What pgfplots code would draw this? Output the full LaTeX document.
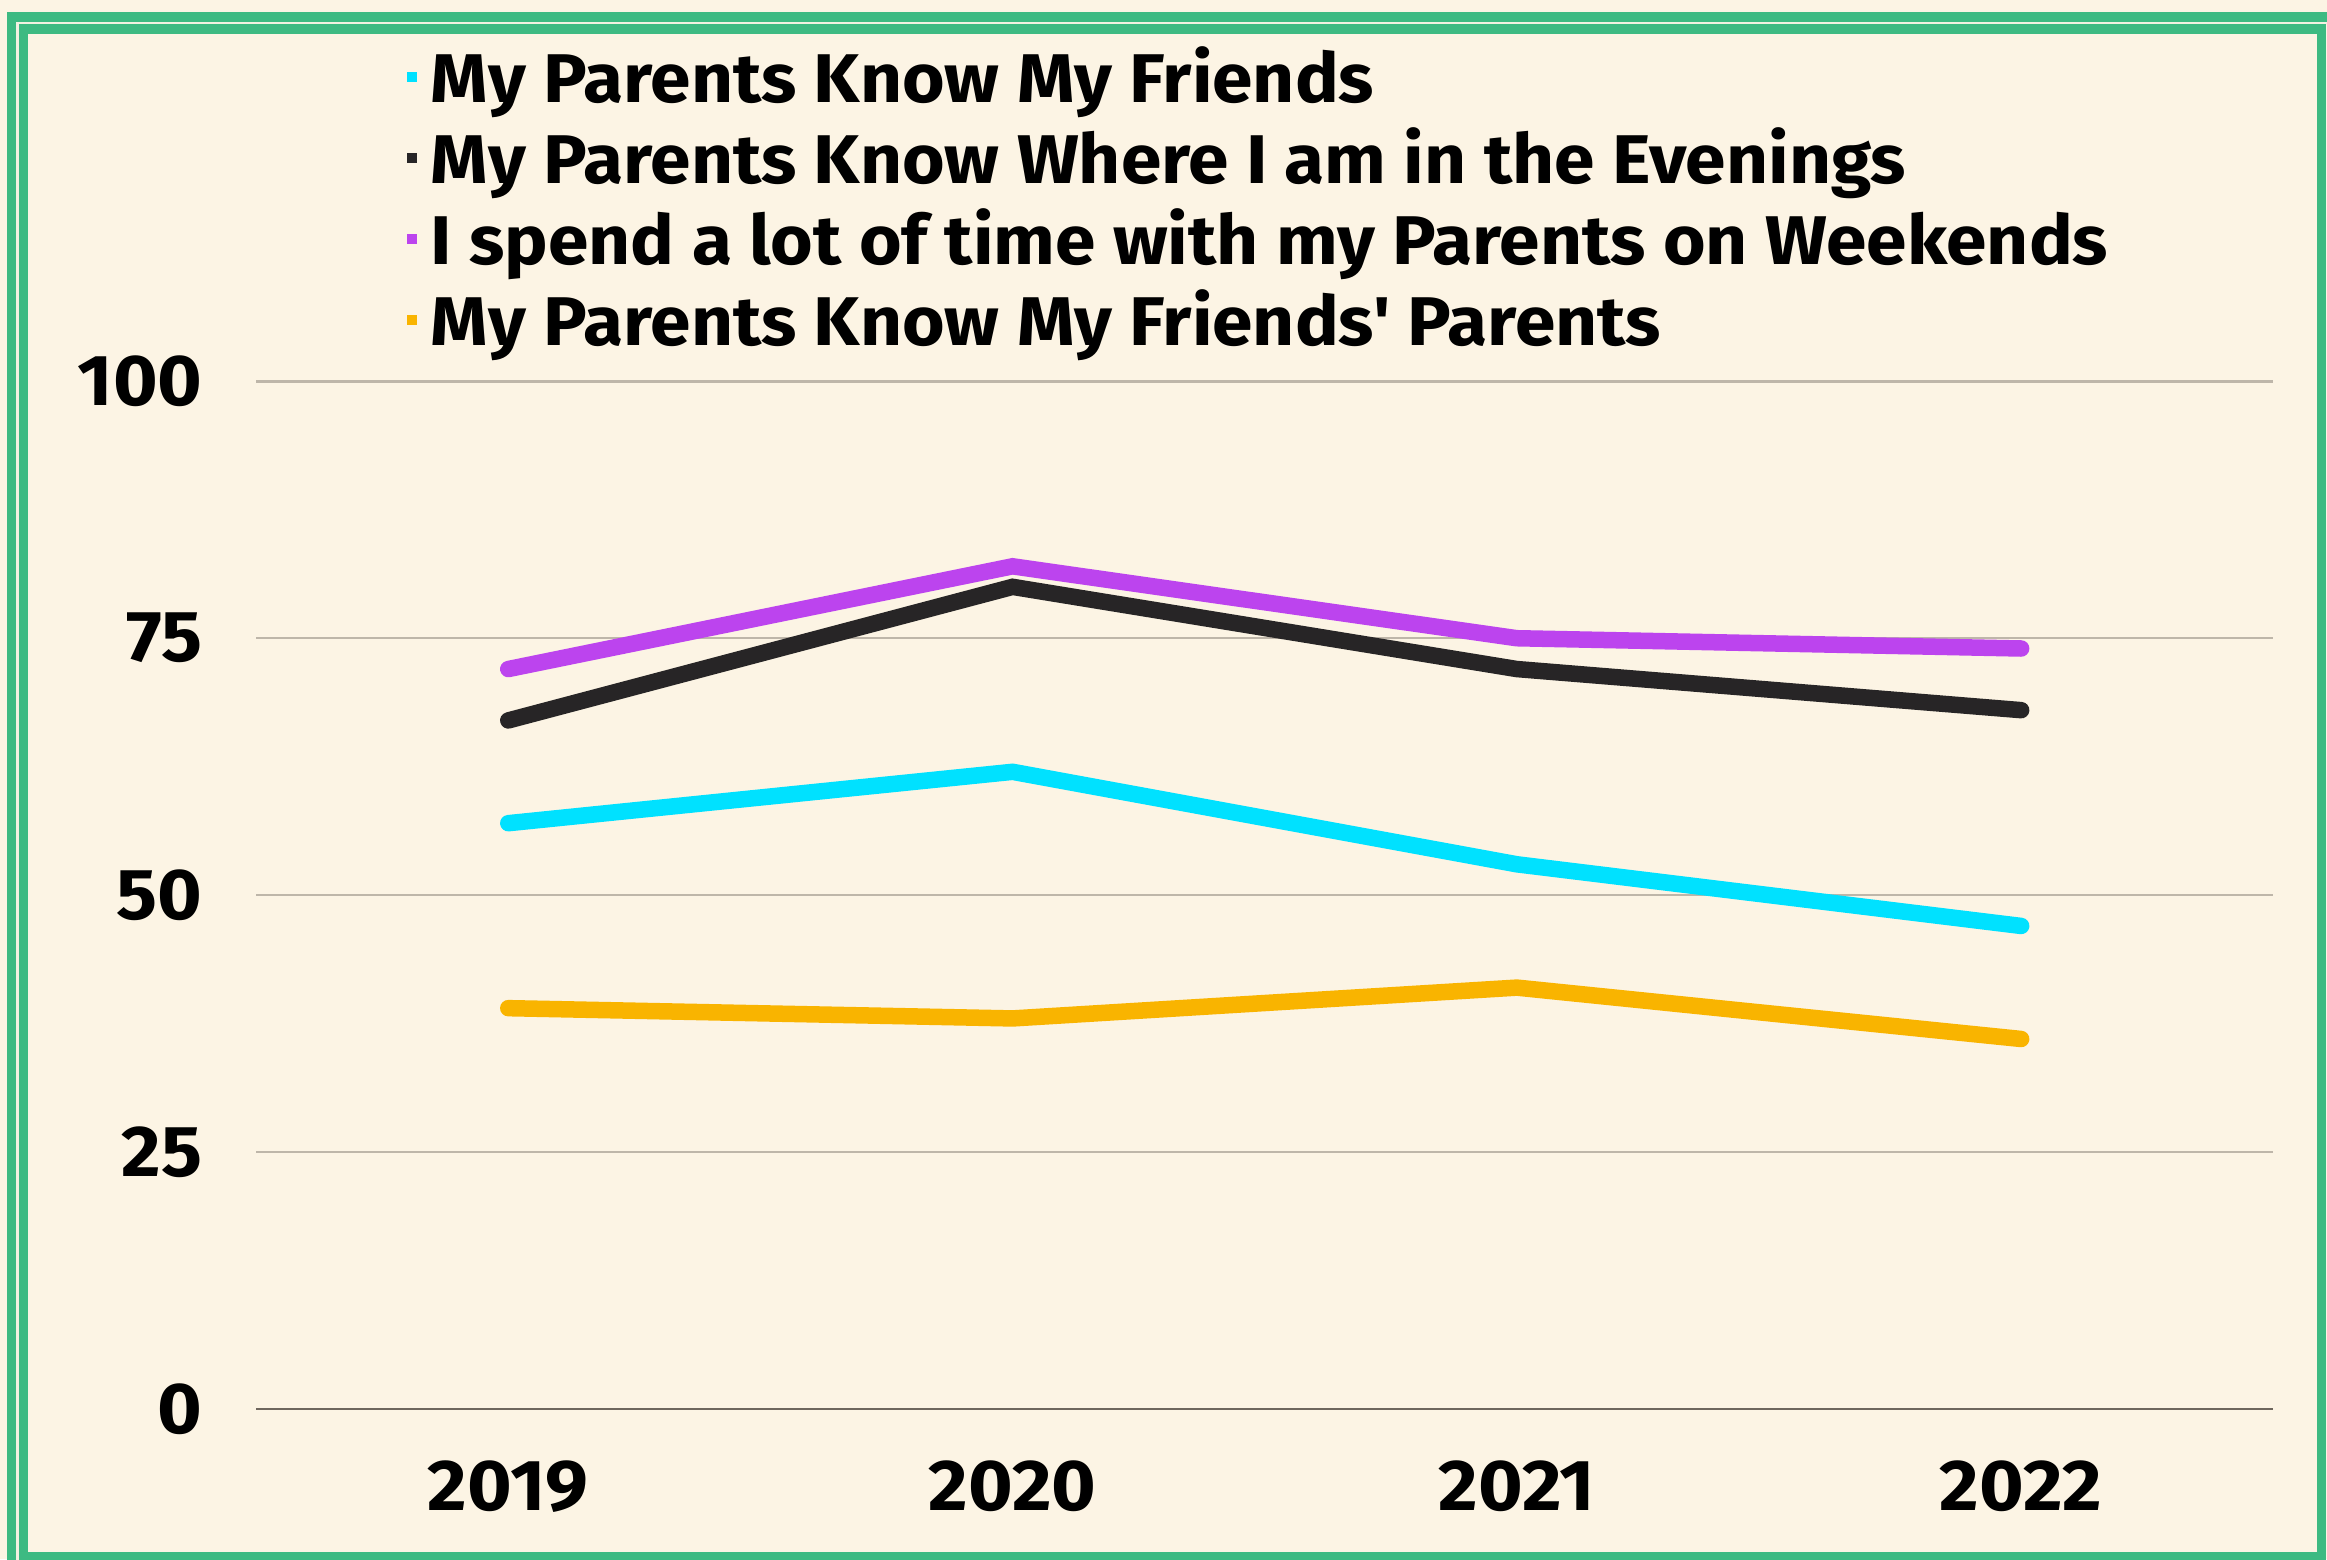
\documentclass[border=0pt]{standalone}
\usepackage{fontspec}
\setmainfont{Fira Sans}[Ligatures=TeXReset, FakeStretch=1.06]
\usepackage{pgfplots}
\pgfplotsset{compat=1.18}
\definecolor{bgc}{HTML}{FCF4E4}
\definecolor{frame}{HTML}{3DBA82}
\definecolor{gapc}{HTML}{F3F1E2}
\definecolor{gridc}{HTML}{BEB6A9}
\definecolor{zeroc}{HTML}{6E665D}
\definecolor{c1}{HTML}{00E1FF}
\definecolor{c2}{HTML}{272526}
\definecolor{c3}{HTML}{BC44EE}
\definecolor{c4}{HTML}{F9B400}
\begin{document}
\begin{tikzpicture}[x=0.01cm,y=0.01cm]
\useasboundingbox (0,0) rectangle (2327,1559);
\fill[bgc] (0,0) rectangle (2327,1559);
\begin{scope}
\clip (0,0) rectangle (2327,1559);
% outer frame line (top-left visible)
\draw[frame, line width=0.094cm] (11.3,-50) -- (11.3,1541.8) -- (2400,1541.8);
\draw[gapc, line width=0.025cm] (17.5,-50) -- (17.5,1535.6) -- (2400,1535.6);
% inner frame
\draw[frame, line width=0.094cm] (23.3,2.3) rectangle (2321.7,1529.8);
\end{scope}
\begin{axis}[
  at={(2.56cm,1.50cm)}, anchor=south west,
  scale only axis, width=20.16cm, height=10.27cm,
  xmin=-0.5, xmax=3.5, ymin=0, ymax=100,
  xtick={0,1,2,3}, xticklabels={2019,2020,2021,2022},
  ytick={0,25,50,75,100},
  axis x line*=bottom,
  axis y line*=left,
  x axis line style={draw=zeroc, line width=0.6pt},
  y axis line style={draw=none},
  major tick length=0pt,
  ymajorgrids, grid style={gridc, line width=0.7pt},
  /pgf/number format/assume math mode=true,
  ticklabel style={font=\bfseries\fontsize{20.5}{24}\selectfont, text=black},
  yticklabel style={anchor=east, inner sep=0pt, xshift=-0.53cm},
  xticklabel style={anchor=north, inner sep=0pt, yshift=-0.51cm},
  clip=false,
  legend cell align=left,
  legend style={at={(0.0747,1.3204)}, anchor=north west, draw=none, fill=none,
    inner sep=0pt, outer sep=0pt, column sep=0.14cm, row sep=0pt,
    cells={anchor=base west},
    nodes={inner sep=0pt, outer sep=0pt, text height=0.5cm, text depth=0.31cm},
    font=\bfseries\fontsize{19.6}{23}\selectfont, text=black},
  legend image code/.code={\path[fill, draw=none] (0cm,0.205cm) rectangle (0.1cm,0.3cm);},
  every axis plot/.append style={line width=0.165cm, line cap=round, line join=miter},
]
\addplot[color=c1] coordinates {(0,57) (1,62) (2,53) (3,47)};
\addlegendentry{My Parents Know My Friends}
\addplot[color=c2] coordinates {(0,67) (1,80) (2,72) (3,68)};
\addlegendentry{My Parents Know Where I am in the Evenings}
\addplot[color=c3] coordinates {(0,72) (1,82) (2,75) (3,74)};
\addlegendentry{I spend a lot of time with my Parents on Weekends}
\addplot[color=c4] coordinates {(0,39) (1,38) (2,41) (3,36)};
\addlegendentry{My Parents Know My Friends' Parents}
\end{axis}
\end{tikzpicture}
\end{document}
